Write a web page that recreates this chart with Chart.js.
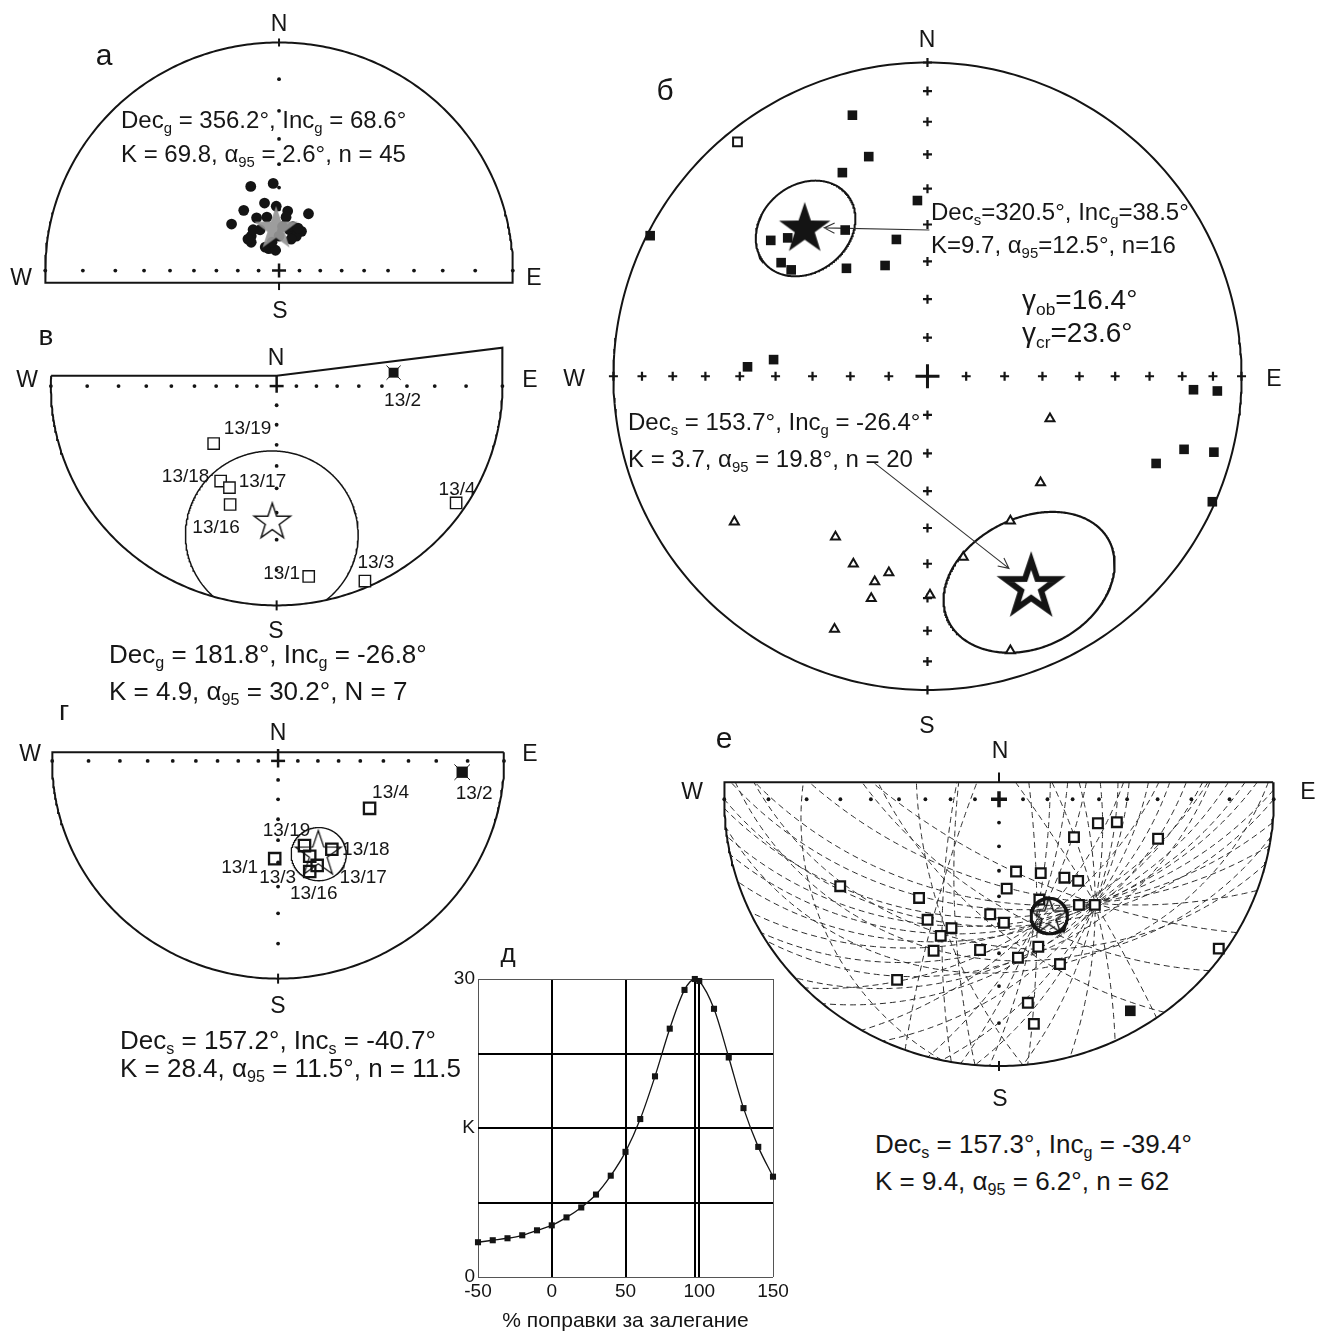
<!DOCTYPE html>
<html lang="ru">
<head>
<meta charset="utf-8">
<title>Палеомагнитные стереограммы</title>
<script src="https://cdn.jsdelivr.net/npm/chart.js@4.4.1/dist/chart.umd.min.js"></script>
<style>
html,body{margin:0;padding:0;background:#fff;}
body{position:relative;width:1318px;height:1334px;overflow:hidden;font-family:"Liberation Sans",Arial,Helvetica,sans-serif;color:#161616;}
canvas{position:absolute;}
.t{position:absolute;white-space:nowrap;line-height:1;z-index:5;}
.c{transform:translate(-50%,-50%);}
.t sub{font-size:62%;vertical-align:baseline;position:relative;top:0.33em;line-height:0;}
</style>
</head>
<body>
<script>
// ================= data =================
// а — geographic directions (Wulff net, upper half shown)
const aDotsX = [-0.121,-0.025,-0.062,-0.151,-0.012,0.037,0.126,-0.203,-0.096,-0.052,0.030,0.044,0.096,-0.119,-0.081,0.074,-0.119,0.000,-0.044,-0.015,-0.059,0.059,0.015,-0.111,0.081,-0.133,-0.030,0.052];
const aDotsY = [0.369,0.382,0.296,0.264,0.282,0.261,0.249,0.204,0.231,0.234,0.234,0.179,0.172,0.151,0.179,0.151,0.124,0.151,0.096,0.089,0.103,0.193,0.193,0.179,0.186,0.138,0.124,0.138];
const aDec = 356.2, aInc = 68.6, aK = 69.8, aA95 = 2.6, aN = 45;

// б — stratigraphic directions (Schmidt net)
const bSolidX = [-0.239,-0.187,-0.271,-0.032,-0.883,-0.262,-0.099,-0.499,-0.445,-0.466,-0.434,-0.258,-0.135,-0.573,-0.490,0.847,0.923,0.817,0.912,0.728,0.907];
const bSolidY = [0.832,0.700,0.649,0.560,0.448,0.466,0.436,0.433,0.441,0.362,0.339,0.344,0.353,0.030,0.053,-0.043,-0.047,-0.233,-0.242,-0.278,-0.400];
const bOpenSqX = [-0.605];
const bOpenSqY = [0.747];
const bTriX = [0.390,0.360,-0.615,-0.293,0.264,0.114,-0.236,-0.123,-0.168,-0.179,0.008,-0.296,0.264];
const bTriY = [-0.135,-0.339,-0.464,-0.512,-0.461,-0.577,-0.598,-0.626,-0.655,-0.708,-0.697,-0.806,-0.875];
const bLowDec = 320.5, bLowInc = 38.5, bLowK = 9.7, bLowA95 = 12.5, bLowN = 16;
const bUpDec = 153.7, bUpInc = -26.4, bUpK = 3.7, bUpA95 = 19.8, bUpN = 20;
const gammaObs = 16.4, gammaCrit = 23.6;

// в — site means, geographic coordinates (Wulff net)
const vSites = ['13/19','13/18','13/17','13/16','13/1','13/3','13/4'];
const vX = [-0.279,-0.248,-0.209,-0.206,0.142,0.391,0.795];
const vY = [-0.262,-0.433,-0.463,-0.540,-0.868,-0.889,-0.533];
const vSolidSites = ['13/2'];
const vSolidX = [0.518];
const vSolidY = [0.061];
const vDec = 181.8, vInc = -26.8, vK = 4.9, vA95 = 30.2, vN = 7;

// г — site means, stratigraphic coordinates (Wulff net)
const gSites = ['13/4','13/19','13/18','13/1','13/3','13/17','13/16'];
const gX = [0.405,0.117,0.238,-0.015,0.140,0.173,0.140];
const gY = [-0.218,-0.389,-0.406,-0.449,-0.438,-0.480,-0.508];
const gSolidSites = ['13/2'];
const gSolidX = [0.815];
const gSolidY = [-0.052];
const gDec = 157.2, gInc = -40.7, gK = 28.4, gA95 = 11.5, gN = 11.5;

// д — fold test: precision parameter versus percent of untilting
const untilt = [-50,-40,-30,-20,-10,0,10,20,30,40,50,60,70,80,90,97,100,110,120,130,140,150];
const kappa = [3.5,3.7,3.9,4.2,4.7,5.2,6.0,7.0,8.3,10.2,12.6,15.9,20.2,25.0,28.9,30.0,29.8,27.0,22.1,17.0,13.1,10.1];
const untiltTicks = [-50,0,50,97,100,150];
const kappaTicks = [0,7.5,15,22.5,30];

// е — end points and remagnetization great circles (Wulff net)
const eX = [0.360,0.429,0.273,0.579,0.062,0.152,0.238,0.288,-0.578,0.028,-0.291,0.147,0.291,0.349,-0.032,-0.260,0.018,-0.173,-0.212,-0.238,-0.069,0.143,0.069,0.222,0.800,-0.371,0.105,0.127];
const eY = [-0.090,-0.086,-0.142,-0.148,-0.271,-0.277,-0.294,-0.306,-0.326,-0.335,-0.370,-0.376,-0.396,-0.396,-0.431,-0.452,-0.463,-0.483,-0.512,-0.568,-0.565,-0.553,-0.594,-0.618,-0.560,-0.677,-0.763,-0.842];
const eSolidX = [0.478];
const eSolidY = [-0.793];
const gcStrike = [88,82,95,100,72,60,40,25,12,5,355,345,335,325,120,110,90,78,65,45,30,15,8,2,354,130,190,200,175,185,143,192,98,84,104,58,48];
const gcDip = [42.1,39.8,45.4,48.3,37.1,35.3,35.0,36.9,40.6,43.5,49.1,56.8,67.2,80.2,65.8,55.8,39.0,38.0,38.4,41.9,47.6,57.0,62.9,69.0,76.9,54.0,71.6,78.9,57.0,72.7,52.0,19.0,28.0,24.0,33.0,30.0,33.0];
const eDec = 157.3, eInc = -39.4, eK = 9.4, eA95 = 6.2, eN = 62;

// ================= helpers =================
const FONT = '"Liberation Sans", Arial, Helvetica, sans-serif';
Chart.defaults.font.family = FONT;
const D2R = Math.PI / 180;
const INK = '#141414';
const graticuleIncs = [80, 70, 60, 50, 40, 30, 20, 10];
const wulffR = i => Math.tan((90 - i) / 2 * D2R);
const schmidtR = i => Math.SQRT2 * Math.sin((90 - i) / 2 * D2R);
const zip = (xs, ys) => xs.map((x, i) => ({x, y: ys[i]}));
const f1 = v => v.toFixed(1);
const GAP = {x: null, y: null};

function dirVec(dec, inc) {
  const d = dec * D2R, i = inc * D2R;
  return [Math.cos(i) * Math.sin(d), Math.cos(i) * Math.cos(d), Math.sin(i)];
}
// projection of a unit vector with z >= 0 onto the net
function proj(v, net) {
  const z = v[2];
  if (net === 'wulff') return {x: v[0] / (1 + z), y: v[1] / (1 + z)};
  const s = Math.sqrt(1 + z);
  return {x: v[0] / s, y: v[1] / s};
}
function projDir(dec, inc, net) { return proj(dirVec(dec, Math.abs(inc)), net); }

// cone of confidence around a mean direction
function confCircle(dec, inc, a95, net) {
  const up = inc < 0, m = dirVec(dec, inc);
  let u = [-m[1], m[0], 0];
  const ul = Math.hypot(u[0], u[1]);
  u = ul < 1e-9 ? [1, 0, 0] : [u[0] / ul, u[1] / ul, 0];
  const w = [m[1]*u[2]-m[2]*u[1], m[2]*u[0]-m[0]*u[2], m[0]*u[1]-m[1]*u[0]];
  const ca = Math.cos(a95 * D2R), sa = Math.sin(a95 * D2R);
  const pts = [];
  for (let k = 0; k <= 360; k++) {
    const p = k * D2R;
    const v = [0, 1, 2].map(j => ca * m[j] + sa * (Math.cos(p) * u[j] + Math.sin(p) * w[j]));
    const z = up ? -v[2] : v[2];
    if (z < 0) { pts.push(GAP); continue; }
    pts.push(proj([v[0], v[1], z], net));
  }
  return pts;
}

// great circle trace (strike, dip), cut along the upper frame line
function greatCircle(strike, dip, yTop) {
  const s = [Math.sin(strike * D2R), Math.cos(strike * D2R), 0];
  const dd = (strike + 90) * D2R, cd = Math.cos(dip * D2R);
  const d = [cd * Math.sin(dd), cd * Math.cos(dd), Math.sin(dip * D2R)];
  const cut = (a, b) => { const t = (yTop - a.y) / (b.y - a.y); return {x: a.x + t * (b.x - a.x), y: yTop}; };
  const pts = []; let prev = null;
  for (let k = 0; k <= 240; k++) {
    const t = k * Math.PI / 240;
    const p = proj([0, 1, 2].map(j => Math.cos(t) * s[j] + Math.sin(t) * d[j]), 'wulff');
    if (p.y > yTop) {
      if (prev && prev.y <= yTop) { pts.push(cut(prev, p)); pts.push(GAP); }
    } else {
      if (prev && prev.y > yTop) pts.push(cut(prev, p));
      pts.push(p);
    }
    prev = p;
  }
  return pts;
}

function arcPts(a0, a1, n) {
  const pts = [];
  for (let k = 0; k <= n; k++) { const a = a0 + (a1 - a0) * k / n; pts.push({x: Math.cos(a), y: Math.sin(a)}); }
  return pts;
}

function axisMarks(rFn, dirs) {
  const pts = [];
  for (const i of graticuleIncs) {
    const r = rFn(i);
    if (dirs.includes('E')) pts.push({x: r, y: 0});
    if (dirs.includes('W')) pts.push({x: -r, y: 0});
    if (dirs.includes('N')) pts.push({x: 0, y: r});
    if (dirs.includes('S')) pts.push({x: 0, y: -r});
  }
  pts.push({x: -1, y: 0}, {x: 1, y: 0});
  return pts;
}

function arrow(from, to, headPx, R) {
  const dx = to.x - from.x, dy = to.y - from.y, L = Math.hypot(dx, dy), ux = dx / L, uy = dy / L;
  const h = headPx / R, a = 26 * D2R, c = Math.cos(a), s = Math.sin(a);
  const w1 = {x: to.x - h * (ux * c - uy * s), y: to.y - h * (uy * c + ux * s)};
  const w2 = {x: to.x - h * (ux * c + uy * s), y: to.y - h * (uy * c - ux * s)};
  return [from, to, GAP, w1, to, w2];
}
function towards(p, q, dist) {
  const dx = q.x - p.x, dy = q.y - p.y, L = Math.hypot(dx, dy);
  return {x: p.x + dx / L * dist, y: p.y + dy / L * dist};
}

function starGlyph(rOut, fill, stroke, lw) {
  const pad = Math.ceil(lw * 3.4) + 2, size = Math.ceil(2 * rOut) + 2 * pad;
  const c = document.createElement('canvas'); c.width = size; c.height = size;
  const g = c.getContext('2d');
  g.translate(size / 2, size / 2 + rOut * 0.06);
  g.beginPath();
  for (let k = 0; k < 10; k++) {
    const r = k % 2 ? rOut * 0.39 : rOut, a = -Math.PI / 2 + k * Math.PI / 5;
    g.lineTo(r * Math.cos(a), r * Math.sin(a));
  }
  g.closePath();
  if (fill) { g.fillStyle = fill; g.fill(); }
  if (lw) { g.lineWidth = lw; g.strokeStyle = stroke; g.lineJoin = 'miter'; g.stroke(); }
  return c;
}

const lineDs = (data, o = {}) => Object.assign({data, showLine: true, pointRadius: 0, pointHoverRadius: 0,
  borderColor: INK, borderWidth: 2, fill: false, tension: 0, spanGaps: false, clip: false}, o);
const ptDs = (data, style, r, o = {}) => Object.assign({data, showLine: false, pointStyle: style, pointRadius: r,
  pointHoverRadius: r, borderColor: INK, backgroundColor: '#fff', borderWidth: 1.5, clip: false}, o);

function netChart(box, geo, datasets) {
  const cv = document.createElement('canvas');
  cv.width = box.w; cv.height = box.h;
  cv.style.left = box.x + 'px'; cv.style.top = box.y + 'px';
  document.body.appendChild(cv);
  datasets.forEach((d, i) => { d.order = -i; });
  return new Chart(cv, {
    type: 'scatter',
    data: {datasets},
    options: {
      responsive: false, animation: false, devicePixelRatio: 1, events: [],
      layout: {padding: 0},
      scales: {
        x: {type: 'linear', display: false, min: (box.x - geo.cx) / geo.R, max: (box.x + box.w - geo.cx) / geo.R},
        y: {type: 'linear', display: false, min: (geo.cy - box.y - box.h) / geo.R, max: (geo.cy - box.y) / geo.R}
      },
      plugins: {legend: {display: false}, tooltip: {enabled: false}}
    }
  });
}

function text(html, x, y, size, centered) {
  const el = document.createElement('div');
  el.className = 't' + (centered ? ' c' : '');
  el.innerHTML = html;
  el.style.fontSize = size + 'px';
  el.style.left = x + 'px';
  el.style.top = (centered ? y : y - 0.85 * size) + 'px';
  document.body.appendChild(el);
  return el;
}
function siteLabels(chart, box, names, xs, ys, offs) {
  names.forEach((n, i) => {
    const px = box.x + chart.scales.x.getPixelForValue(xs[i]) + offs[i][0];
    const py = box.y + chart.scales.y.getPixelForValue(ys[i]) + offs[i][1];
    text(n, px, py, 19, true);
  });
}
function compass(pos) {
  for (const k of Object.keys(pos)) text(k, pos[k][0], pos[k][1], 23, true);
}

// ================= а =================
{
  const box = {x: 0, y: 0, w: 560, h: 330}, geo = {cx: 279, cy: 277, R: 242};
  const yb = -0.054;
  const outline = arcPts(Math.asin(yb), Math.PI - Math.asin(yb), 240);
  outline.push(outline[0]);
  const star = projDir(aDec, aInc, 'wulff');
  netChart(box, geo, [
    lineDs(outline),
    ptDs(axisMarks(wulffR, ['E', 'W', 'N']), 'circle', 1.9, {backgroundColor: INK, borderWidth: 0}),
    ptDs([{x: 0, y: 0}], 'cross', 7, {borderWidth: 2.5}),
    ptDs([{x: 0, y: 1}, {x: 0, y: yb - 0.014}], 'line', 4, {pointRotation: 90, borderWidth: 2}),
    ptDs(zip(aDotsX, aDotsY), 'circle', 5.4, {backgroundColor: INK, borderWidth: 0}),
    ptDs([star], starGlyph(23, 'rgba(150,150,150,0.93)', null, 0), 5)
  ]);
  text('а', 104, 55, 30, true);
  compass({N: [279, 23], W: [21, 277], E: [534, 277], S: [280, 310]});
  text(`Dec<sub>g</sub> = ${f1(aDec)}°, Inc<sub>g</sub> = ${f1(aInc)}°`, 121, 128, 24);
  text(`K = ${f1(aK)}, α<sub>95</sub> = ${f1(aA95)}°, n = ${aN}`, 121, 162, 24);
}

// ================= б =================
{
  const box = {x: 560, y: 0, w: 758, h: 740}, geo = {cx: 927, cy: 376.5, R: 327};
  const lowStar = projDir(bLowDec, bLowInc, 'schmidt');
  const upStar = projDir(bUpDec, bUpInc, 'schmidt');
  const a1From = {x: 0.006, y: 0.466};
  const a2From = {x: -0.169, y: -0.276};
  const edges = [{x: 0, y: 1}, {x: 0, y: -1}];
  netChart(box, geo, [
    ptDs(axisMarks(schmidtR, ['E', 'W', 'N', 'S']).concat(edges), 'cross', 4.5, {borderWidth: 2.2}),
    ptDs([{x: 0, y: 0}], 'cross', 12, {borderWidth: 3}),
    lineDs(arcPts(0, 2 * Math.PI, 360)),
    lineDs(confCircle(bLowDec, bLowInc, bLowA95, 'schmidt'), {borderWidth: 2}),
    lineDs(confCircle(bUpDec, bUpInc, bUpA95, 'schmidt'), {borderWidth: 2.2}),
    lineDs(arrow(a1From, towards(lowStar, a1From, 0.062), 12, geo.R), {borderWidth: 1.1, borderColor: '#333'}),
    lineDs(arrow(a2From, towards(upStar, a2From, 0.09), 12, geo.R), {borderWidth: 1.1, borderColor: '#333'}),
    ptDs(zip(bSolidX, bSolidY), 'rect', 6.8, {backgroundColor: INK, borderWidth: 0}),
    ptDs(zip(bOpenSqX, bOpenSqY), 'rect', 6.2, {borderWidth: 2}),
    ptDs(zip(bTriX, bTriY), 'triangle', 5.2, {borderWidth: 2}),
    ptDs([lowStar], starGlyph(27, INK, null, 0), 5),
    ptDs([upStar], starGlyph(27, '#fff', INK, 6), 5)
  ]);
  text('б', 665, 90, 30, true);
  compass({N: [927, 39], W: [574, 378], E: [1274, 378], S: [927, 725]});
  text(`Dec<sub>s</sub>=${f1(bLowDec)}°, Inc<sub>g</sub>=${f1(bLowInc)}°`, 931, 220, 24);
  text(`K=${f1(bLowK)}, α<sub>95</sub>=${f1(bLowA95)}°, n=${bLowN}`, 931, 253, 24);
  text(`γ<sub>ob</sub>=${f1(gammaObs)}°`, 1022, 310, 28);
  text(`γ<sub>cr</sub>=${f1(gammaCrit)}°`, 1022, 343, 28);
  text(`Dec<sub>s</sub> = ${f1(bUpDec)}°, Inc<sub>g</sub> = ${f1(bUpInc)}°`, 628, 430, 24);
  text(`K = ${f1(bUpK)}, α<sub>95</sub> = ${f1(bUpA95)}°, n = ${bUpN}`, 628, 467, 24);
}

// ================= в =================
{
  const box = {x: 0, y: 320, w: 560, h: 330}, geo = {cx: 276.5, cy: 379, R: 235};
  const yt = 0.0468;
  const outline = [{x: -Math.sqrt(1 - yt * yt), y: yt}, {x: 0, y: yt}, {x: 1.0, y: 0.175}, {x: 1.0, y: 0}]
    .concat(arcPts(0, -Math.PI, 240)).concat(arcPts(Math.PI, Math.PI - Math.asin(yt), 4));
  const star = projDir(vDec, vInc, 'wulff');
  const ch = netChart(box, geo, [
    lineDs(outline),
    ptDs(axisMarks(wulffR, ['E', 'W', 'S']), 'circle', 1.9, {backgroundColor: INK, borderWidth: 0}),
    lineDs([{x: 0, y: yt}, {x: 0, y: -0.03}], {borderWidth: 2.5}),
    ptDs([{x: 0, y: 0}], 'line', 7, {borderWidth: 2.5}),
    ptDs([{x: 0, y: -1}], 'line', 5, {pointRotation: 90, borderWidth: 2}),
    lineDs(confCircle(vDec, vInc, vA95, 'wulff'), {borderWidth: 1.5}),
    ptDs(zip(vX, vY), 'rect', 8, {borderWidth: 1.4}),
    ptDs(zip(vSolidX, vSolidY), 'crossRot', 10, {borderWidth: 1}),
    ptDs(zip(vSolidX, vSolidY), 'rect', 7, {backgroundColor: INK, borderWidth: 0}),
    ptDs([star], starGlyph(19, '#fff', INK, 1.5), 5)
  ]);
  siteLabels(ch, box, vSites, vX, vY, [[34, -17], [-35, -6], [33, -8], [-14, 21], [-27, -4], [11, -20], [1, -15]]);
  siteLabels(ch, box, vSolidSites, vSolidX, vSolidY, [[9, 26]]);
  text('в', 46, 336, 28, true);
  compass({N: [276, 357], W: [27, 379], E: [530, 379], S: [276, 630]});
  text(`Dec<sub>g</sub> = ${f1(vDec)}°, Inc<sub>g</sub> = ${f1(vInc)}°`, 109, 663, 26);
  text(`K = ${f1(vK)}, α<sub>95</sub> = ${f1(vA95)}°, N = ${vN}`, 109, 700, 26);
}

// ================= г =================
{
  const box = {x: 0, y: 700, w: 560, h: 310}, geo = {cx: 278, cy: 753, R: 236};
  const yt = 0.04;
  const outline = arcPts(Math.asin(yt), -Math.PI - Math.asin(yt), 240);
  outline.push(outline[0]);
  const star = projDir(gDec, gInc, 'wulff');
  const ch = netChart(box, geo, [
    lineDs(outline),
    ptDs(axisMarks(wulffR, ['E', 'W', 'S']), 'circle', 1.9, {backgroundColor: INK, borderWidth: 0}),
    lineDs([{x: 0, y: 0.055}, {x: 0, y: -0.03}], {borderWidth: 2.5}),
    ptDs([{x: 0, y: 0}], 'line', 7, {borderWidth: 2.5}),
    ptDs([{x: 0, y: -1}], 'line', 5, {pointRotation: 90, borderWidth: 2}),
    lineDs(confCircle(gDec, gInc, gA95, 'wulff'), {borderWidth: 1.3}),
    ptDs(zip(gX, gY), 'rect', 8, {borderWidth: 2.3, backgroundColor: 'rgba(255,255,255,0)'}),
    ptDs(zip(gSolidX, gSolidY), 'crossRot', 11, {borderWidth: 1}),
    ptDs(zip(gSolidX, gSolidY), 'rect', 8, {backgroundColor: INK, borderWidth: 0}),
    ptDs([star], starGlyph(24, null, INK, 1.3), 5)
  ]);
  siteLabels(ch, box, gSites, gX, gY, [[21, -17], [-18, -17], [34, -1], [-35, 7], [-32, 20], [46, 11], [4, 20]]);
  siteLabels(ch, box, gSolidSites, gSolidX, gSolidY, [[12, 20]]);
  text('г', 64, 711, 28, true);
  compass({N: [278, 732], W: [30, 753], E: [530, 753], S: [278, 1005]});
  text(`Dec<sub>s</sub> = ${f1(gDec)}°, Inc<sub>s</sub> = ${f1(gInc)}°`, 120, 1049, 26);
  text(`K = ${f1(gK)}, α<sub>95</sub> = ${f1(gA95)}°, n = ${gN}`, 120, 1077, 26);
}

// ================= е =================
{
  const box = {x: 680, y: 740, w: 638, h: 360}, geo = {cx: 999, cy: 791, R: 285};
  const yt = 0.064;
  const outline = arcPts(Math.asin(yt), -Math.PI - Math.asin(yt), 260);
  outline.push(outline[0]);
  const star = projDir(eDec, eInc, 'wulff');
  const circles = gcStrike.map((s, i) => lineDs(greatCircle(s, gcDip[i], yt),
    {borderWidth: 1, borderColor: '#2a2a2a', borderDash: [6, 4]}));
  netChart(box, geo, circles.concat([
    lineDs(outline),
    ptDs(axisMarks(wulffR, ['E', 'W', 'S']), 'circle', 1.9, {backgroundColor: INK, borderWidth: 0}),
    lineDs([{x: 0, y: yt}, {x: 0, y: 0.1}], {borderWidth: 2}),
    ptDs([{x: 0, y: 0}], 'cross', 8, {borderWidth: 3.5}),
    ptDs([{x: 0, y: -1}], 'line', 5, {pointRotation: 90, borderWidth: 2}),
    ptDs(zip(eX, eY), 'rect', 6.8, {borderWidth: 2.3}),
    ptDs(zip(eSolidX, eSolidY), 'rect', 7.5, {backgroundColor: INK, borderWidth: 0}),
    lineDs(confCircle(eDec, eInc, eA95, 'wulff'), {borderWidth: 3}),
    ptDs([star], starGlyph(19, null, INK, 1.5), 5)
  ]));
  text('е', 724, 738, 30, true);
  compass({N: [1000, 750], W: [692, 791], E: [1308, 791], S: [1000, 1098]});
  text(`Dec<sub>s</sub> = ${f1(eDec)}°, Inc<sub>g</sub> = ${f1(eInc)}°`, 875, 1153, 26);
  text(`K = ${f1(eK)}, α<sub>95</sub> = ${f1(eA95)}°, n = ${eN}`, 875, 1190, 26);
}

// ================= д =================
{
  const box = {x: 420, y: 940, w: 380, h: 394};
  const cv = document.createElement('canvas');
  cv.width = box.w; cv.height = box.h;
  cv.style.left = box.x + 'px'; cv.style.top = box.y + 'px';
  document.body.appendChild(cv);
  const edgeX = v => v === untiltTicks[0] || v === untiltTicks[untiltTicks.length - 1];
  const edgeY = v => v === kappaTicks[0] || v === kappaTicks[kappaTicks.length - 1];
  const tickFont = {size: 19, family: FONT};
  new Chart(cv, {
    type: 'line',
    data: {datasets: [{
      data: zip(untilt, kappa),
      borderColor: INK, borderWidth: 1.3, cubicInterpolationMode: 'monotone',
      pointStyle: 'rect', pointRadius: 4.3, pointHoverRadius: 4.3,
      pointBackgroundColor: INK, pointBorderWidth: 0, clip: false
    }]},
    options: {
      responsive: false, animation: false, devicePixelRatio: 1, events: [],
      layout: {padding: {top: 39, right: 27, left: 0, bottom: 0}},
      scales: {
        x: {
          type: 'linear', min: -50, max: 150,
          afterBuildTicks: s => { s.ticks = untiltTicks.map(v => ({value: v})); },
          afterFit: s => { s.height = 57; },
          ticks: {callback: v => (v === 97 ? '' : String(v)), color: INK, font: tickFont, padding: 3, maxRotation: 0, autoSkip: false},
          grid: {drawTicks: false, color: c => (c.tick && edgeX(c.tick.value) ? '#555' : '#000'),
                 lineWidth: c => (c.tick && edgeX(c.tick.value) ? 1 : 2)},
          border: {display: false},
          title: {display: true, text: '% поправки за залегание', color: INK, font: {size: 21, family: FONT}, padding: {top: 0, bottom: 0}}
        },
        y: {
          type: 'linear', min: 0, max: 30,
          afterBuildTicks: s => { s.ticks = kappaTicks.map(v => ({value: v})); },
          afterFit: s => { s.width = 58; },
          ticks: {callback: v => (v === 30 ? '30' : v === 0 ? '0' : v === 15 ? 'K' : ''), color: INK, font: tickFont, padding: 3},
          grid: {drawTicks: false, color: c => (c.tick && edgeY(c.tick.value) ? '#555' : '#000'),
                 lineWidth: c => (c.tick && edgeY(c.tick.value) ? 1 : 2)},
          border: {display: false}
        }
      },
      plugins: {legend: {display: false}, tooltip: {enabled: false}}
    }
  });
  text('д', 508, 953, 26, true);
}
</script>
</body>
</html>
